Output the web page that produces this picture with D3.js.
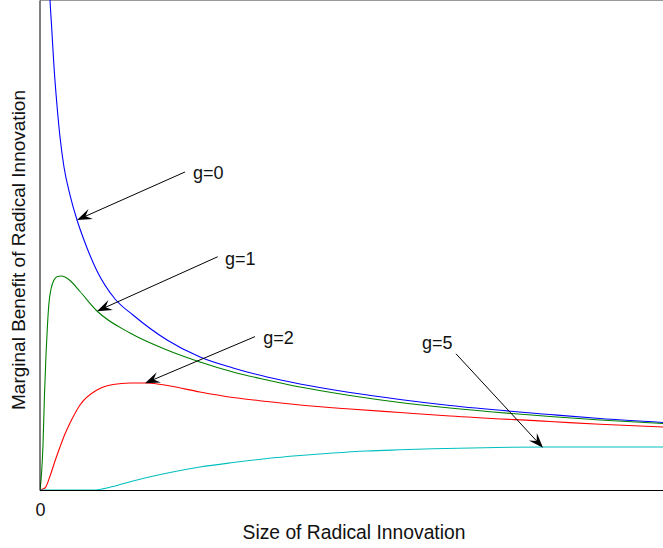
<!DOCTYPE html>
<html>
<head>
<meta charset="utf-8">
<script src="https://cdn.jsdelivr.net/npm/d3@7"></script>
<style>
  html, body { margin: 0; padding: 0; background: #fff; }
  svg { display: block; font-family: "Liberation Sans", Arial, sans-serif; }
</style>
</head>
<body>
<div id="chart"></div>
<script>
// ---- data (x: size of radical innovation, y: marginal benefit; arbitrary units 0-100) ----
const seriesNames = ["g=0", "g=1", "g=2", "g=5"];
const seriesColors = ["#0000ff", "#008000", "#ff0000", "#00bfbf"];

const g0 = [
  [1.49,104.08],[1.61,100],[1.85,94.90],[2.25,86.33],[2.68,79.18],[3.21,72.04],[3.85,65.92],
  [4.82,60.20],[5.94,55.10],[7.06,51.02],[9.15,44.69],[12.04,38.98],[14.93,35.71],[20.39,30.61],
  [25.68,27.14],[30.98,24.90],[36.44,23.06],[41.73,21.63],[49.76,19.90],[57.78,18.47],
  [65.81,17.24],[81.86,15.41],[89.89,14.59],[100,13.78]
];
const g1 = [
  [0,0],[0.24,3.27],[0.48,9.18],[0.72,19.39],[0.96,27.55],[1.20,33.67],[1.44,38.16],[1.77,41.02],
  [2.25,42.86],[2.81,43.57],[3.37,43.67],[4.01,43.47],[4.82,42.76],[6.42,40.51],[9.15,36.53],
  [14.45,32.04],[20.39,28.57],[25.68,26.12],[30.98,24.08],[36.44,22.45],
  [41.73,21.02],[49.76,19.29],[57.78,17.86],[65.81,16.73],[81.86,15.0],[89.89,14.29],[100,13.57]
];
const g2 = [
  [0,0],[0.80,0.41],[1.61,2.86],[2.41,5.92],[3.21,8.78],[4.01,11.43],[4.82,13.67],[6.42,17.35],
  [9.15,20.41],[11.72,21.53],[14.45,21.84],[17.17,21.84],[20.87,21.22],[25.68,20.0],[30.98,18.88],
  [36.44,18.06],[41.73,17.35],[49.76,16.53],[57.78,15.82],[65.81,15.10],[81.86,13.98],
  [89.89,13.41],[100,12.86]
];
const g5 = [
  [0,0],[8.51,0],[11.72,0.71],[14.93,1.84],[20.87,3.57],[25.68,4.69],[30.98,5.61],[36.44,6.43],
  [41.73,7.04],[47.03,7.55],[52.49,7.96],[57.78,8.20],[63.08,8.41],[75.44,8.71],[83.47,8.78],[100,8.78]
];
const seriesValues = [g0, g1, g2, g5];

// annotation: label position, arrow start, arrow tip (data units)
const annLabels = ["g=0", "g=1", "g=2", "g=5"];
const annText  = [[24.56,64.7],[29.70,47.3],[35.84,31.0],[61.32,30.0]];
const annStart = [[23.27,64.9],[28.52,47.6],[34.51,31.3],[66.77,27.8]];
const annTip   = [[5.94,55.1],[9.15,36.5],[16.85,21.8],[80.74,8.6]];

const xTicks = [0];
const xLabel = "Size of Radical Innovation";
const yLabel = "Marginal Benefit of Radical Innovation";

// ---- layout ----
const W = 663, H = 548;
const mLeft = 40, mRight = 663, mTop = 0, mBottom = 490;

const svg = d3.select("#chart").append("svg").attr("width", W).attr("height", H);

const x = d3.scaleLinear().domain([0, 100]).range([mLeft, mRight]);
const y = d3.scaleLinear().domain([0, 100]).range([mBottom, mTop]);

svg.append("clipPath").attr("id", "clip")
  .append("rect").attr("x", mLeft).attr("y", mTop).attr("width", mRight - mLeft + 5).attr("height", mBottom - mTop);

// top border
svg.append("line").attr("x1", mLeft).attr("x2", W + 2).attr("y1", 0.5).attr("y2", 0.5)
  .attr("stroke", "#999").attr("stroke-width", 1);

// curves
const line = d3.line().curve(d3.curveMonotoneX).x(d => x(d[0])).y(d => y(d[1]));
const gCurves = svg.append("g").attr("clip-path", "url(#clip)");
seriesValues.forEach((vals, i) => {
  gCurves.append("path").datum(vals)
    .attr("d", line)
    .attr("fill", "none")
    .attr("stroke", seriesColors[i])
    .attr("stroke-width", 1.1);
});

// axes
const xAxis = svg.append("g").attr("transform", `translate(0,${mBottom + 0.5})`)
  .call(d3.axisBottom(x).tickValues(xTicks).tickSize(0).tickSizeOuter(0).tickPadding(13).tickFormat(d3.format("d")));
xAxis.select(".domain").attr("stroke", "#000").attr("d", `M${mLeft},0H${W + 2}`);
xAxis.selectAll("text").attr("font-size", 18).attr("font-family", "Liberation Sans, Arial, sans-serif").attr("fill", "#111");

const yAxis = svg.append("g").attr("transform", `translate(${mLeft - 0.5},0)`)
  .call(d3.axisLeft(y).tickValues([]).tickSizeOuter(0));
yAxis.select(".domain").attr("stroke", "#000");

// axis labels
svg.append("text").attr("x", 354).attr("y", 539).attr("text-anchor", "middle")
  .attr("font-size", 19.3).attr("fill", "#111").text(xLabel);
svg.append("text").attr("transform", "translate(25,250) rotate(-90)").attr("text-anchor", "middle")
  .attr("font-size", 19).attr("fill", "#111").text(yLabel);

// annotations
const headL = 15, headW = 11;
annLabels.forEach((lab, i) => {
  const sx = x(annStart[i][0]), sy = y(annStart[i][1]);
  const tx = x(annTip[i][0]), ty = y(annTip[i][1]);
  const ang = Math.atan2(ty - sy, tx - sx);
  svg.append("line").attr("x1", sx).attr("y1", sy)
    .attr("x2", tx - Math.cos(ang) * 8).attr("y2", ty - Math.sin(ang) * 8)
    .attr("stroke", "#000").attr("stroke-width", 1);
  svg.append("path")
    .attr("d", `M0,0L${-headL},${-headW / 2}L${-headL * 0.62},0L${-headL},${headW / 2}Z`)
    .attr("transform", `translate(${tx},${ty}) rotate(${ang * 180 / Math.PI})`)
    .attr("fill", "#000");
  svg.append("text").attr("x", x(annText[i][0])).attr("y", y(annText[i][1])).attr("dy", "0.35em")
    .attr("font-size", 18).attr("fill", "#111").text(lab);
});
</script>
</body>
</html>
